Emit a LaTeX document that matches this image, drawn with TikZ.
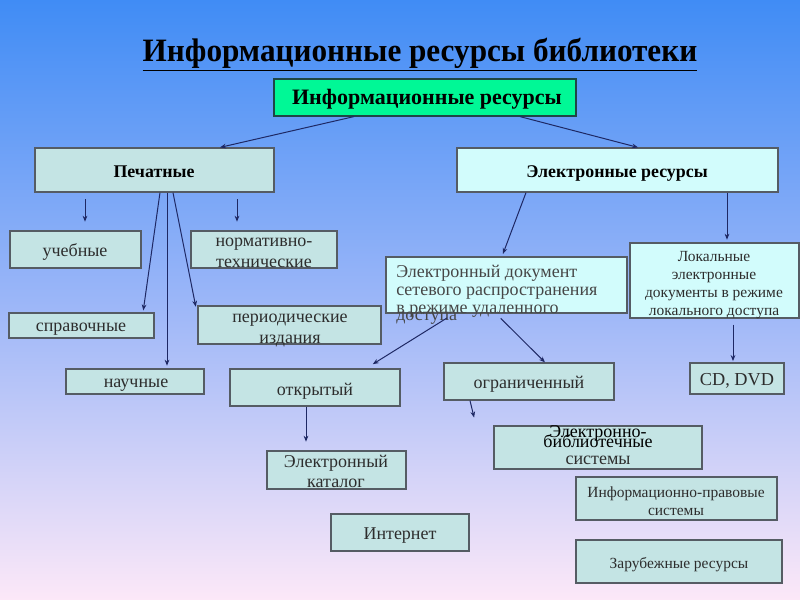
\documentclass[tikz,border=0pt]{standalone}
\usepackage{fontspec}
\setmainfont{Liberation Serif}
\usetikzlibrary{arrows.meta,fit,calc}
\definecolor{bgtop}{RGB}{64,140,245}
\definecolor{bgmid}{RGB}{155,182,248}
\definecolor{bgbot}{RGB}{252,232,248}
\definecolor{topfill}{RGB}{0,248,150}
\definecolor{tealfill}{RGB}{196,228,228}
\definecolor{cyanfill}{RGB}{210,252,252}
\definecolor{boxline}{RGB}{85,92,100}
\definecolor{txtcol}{RGB}{45,45,45}
\definecolor{doccol}{RGB}{70,70,70}
\definecolor{arrcol}{RGB}{30,40,100}
\begin{document}
\begin{tikzpicture}[x=0.75pt,y=-0.75pt,
  box/.style={draw=boxline, line width=0.9pt, fill=tealfill, inner sep=0pt},
  cbox/.style={box, fill=cyanfill},
  txt/.style={inner sep=0pt, text=txtcol, font=\fontsize{13.5}{15}\selectfont, text height=0.85em, text depth=0.05em},
  btxt/.style={txt, text=black, font=\bfseries\fontsize{13.4}{15}\selectfont},
  stxt/.style={txt, font=\fontsize{11.6}{13}\selectfont},
  dtxt/.style={txt, anchor=base west, text=doccol},
  arr/.style={draw=arrcol, line width=0.75pt, -{Stealth[length=4.5pt,width=3.5pt]}}]
\shade[top color=bgtop, bottom color=bgbot, middle color=bgmid] (0,0) rectangle (800,600);
\useasboundingbox (0,0) rectangle (800,600);

% title
\node[inner sep=0pt, text=black, font=\bfseries\fontsize{24}{28}\selectfont] (title) at (420,55) {\scalebox{0.975}[1.02]{\underline{Информационные ресурсы библиотеки}}};

% boxes
\node[box, fill=topfill, draw={rgb,255:red,30;green,70;blue,70}, fit={(274,79) (576,116)}] (top) {};
\node[txt, text=black, font=\bfseries\fontsize{16.5}{18}\selectfont] (topt) at (427,99) {Информационные ресурсы};

\node[box, fit={(35,148) (274,192)}] (print) {};
\node[btxt] (printt) at (154,172) {Печатные};
\node[cbox, fit={(457,148) (778,192)}] (elec) {};
\node[btxt] (elect) at (617,172) {Электронные ресурсы};

\node[box, fit={(10,231) (141,268)}] (ucheb) {};
\node[txt] (ucheb-t) at (75,251) {учебные};
\node[box, fit={(191,231) (337,268)}] (norm) {};
\node[txt] (norm-t1) at (264,241) {нормативно-};
\node[txt] (norm-t2) at (264,262) {технические};
\node[box, fit={(9,313) (154,338)}] (sprav) {};
\node[txt] (sprav-t) at (81,326) {справочные};
\node[box, fit={(198,306) (381,344)}] (period) {};
\node[txt] (period-t1) at (290,317) {периодические};
\node[txt] (period-t2) at (290,338) {издания};
\node[box, fit={(66,369) (204,394)}] (nauch) {};
\node[txt] (nauch-t) at (136,382) {научные};

\node[cbox, fit={(386,257) (627,313)}] (edoc) {};
\node[dtxt] (edoc-t1) at (396,277) {Электронный документ};
\node[dtxt] (edoc-t2) at (396,295) {сетевого распространения};
\node[dtxt] (edoc-t3) at (396,313) {в режиме удаленного};
\node[dtxt] (edoc-t4) at (396,320) {доступа};

\node[cbox, fit={(630,243) (799,318)}] (local) {};
\node[stxt] (local-t1) at (714,256) {Локальные};
\node[stxt] (local-t2) at (714,274) {электронные};
\node[stxt] (local-t3) at (714,292) {документы в режиме};
\node[stxt] (local-t4) at (714,310) {локального доступа};

\node[box, fit={(230,369) (400,406)}] (open) {};
\node[txt] (open-t) at (315,390) {открытый};
\node[box, fit={(444,363) (614,400)}] (restr) {};
\node[txt] (restr-t) at (529,383) {ограниченный};
\node[box, fit={(690,363) (784,394)}] (cd) {};
\node[txt, font=\fontsize{13.7}{15}\selectfont] (cd-t) at (737,380) {CD, DVD};

\node[box, fit={(494,426) (702,469)}] (ebs) {};
\node[txt, text=black] (ebs-t1) at (598,432) {Электронно-};
\node[txt, text=black] (ebs-t2) at (598,442) {библиотечные};
\node[txt] (ebs-t3) at (598,459) {системы};

\node[box, fit={(267,451) (406,489)}] (ecat) {};
\node[txt] (ecat-t1) at (336,462) {Электронный};
\node[txt] (ecat-t2) at (336,482) {каталог};
\node[box, fit={(331,514) (469,551)}] (inet) {};
\node[txt] (inet-t) at (400,534) {Интернет};
\node[box, fit={(576,477) (777,520)}] (ips) {};
\node[stxt] (ips-t1) at (676,492) {Информационно-правовые};
\node[stxt] (ips-t2) at (676,510) {системы};
\node[box, fit={(576,540) (782,583)}] (foreign) {};
\node[stxt] (foreign-t) at (679,563) {Зарубежные ресурсы};

% connectors
\draw[arr] (354,0 |- top.south) -- (220,0 |- print.north);
\draw[arr] (520,0 |- top.south) -- (638,0 |- elec.north);
\draw[arr, shorten <=5pt, shorten >=6.5pt] (85,0 |- print.south) -- (85,0 |- ucheb.north);
\draw[arr, shorten <=5pt, shorten >=6.5pt] (237,0 |- print.south) -- (237,0 |- norm.north);
\draw[arr, shorten >=1.5pt] (160,0 |- print.south) -- (143,0 |- sprav.north);
\draw[arr, shorten >=2pt] (167,0 |- print.south) -- (167,0 |- nauch.north);
\draw[arr, shorten >=1pt] (173,0 |- print.south) -- ([shift={(-1pt,-2pt)}]period.north west);
\draw[arr, shorten >=2pt] (526,0 |- elec.south) -- (502,0 |- edoc.north);
\draw[arr, shorten >=2pt] (727,0 |- elec.south) -- (727,0 |- local.north);
\draw[arr, shorten <=6pt, shorten >=6pt] (454,0 |- edoc.south) -- (366,0 |- open.north);
\draw[arr, shorten <=5pt] (496,0 |- edoc.south) -- (545,0 |- restr.north);
\draw[arr, shorten <=4.5pt, shorten >=1pt] (733,0 |- local.south) -- (733,0 |- cd.north);
\draw[arr, shorten >=6.5pt] (306,0 |- open.south) -- (306,0 |- ecat.north);
\draw[arr, shorten >=6pt] (470,0 |- restr.south) -- (476,0 |- ebs.north);
\end{tikzpicture}
\end{document}
